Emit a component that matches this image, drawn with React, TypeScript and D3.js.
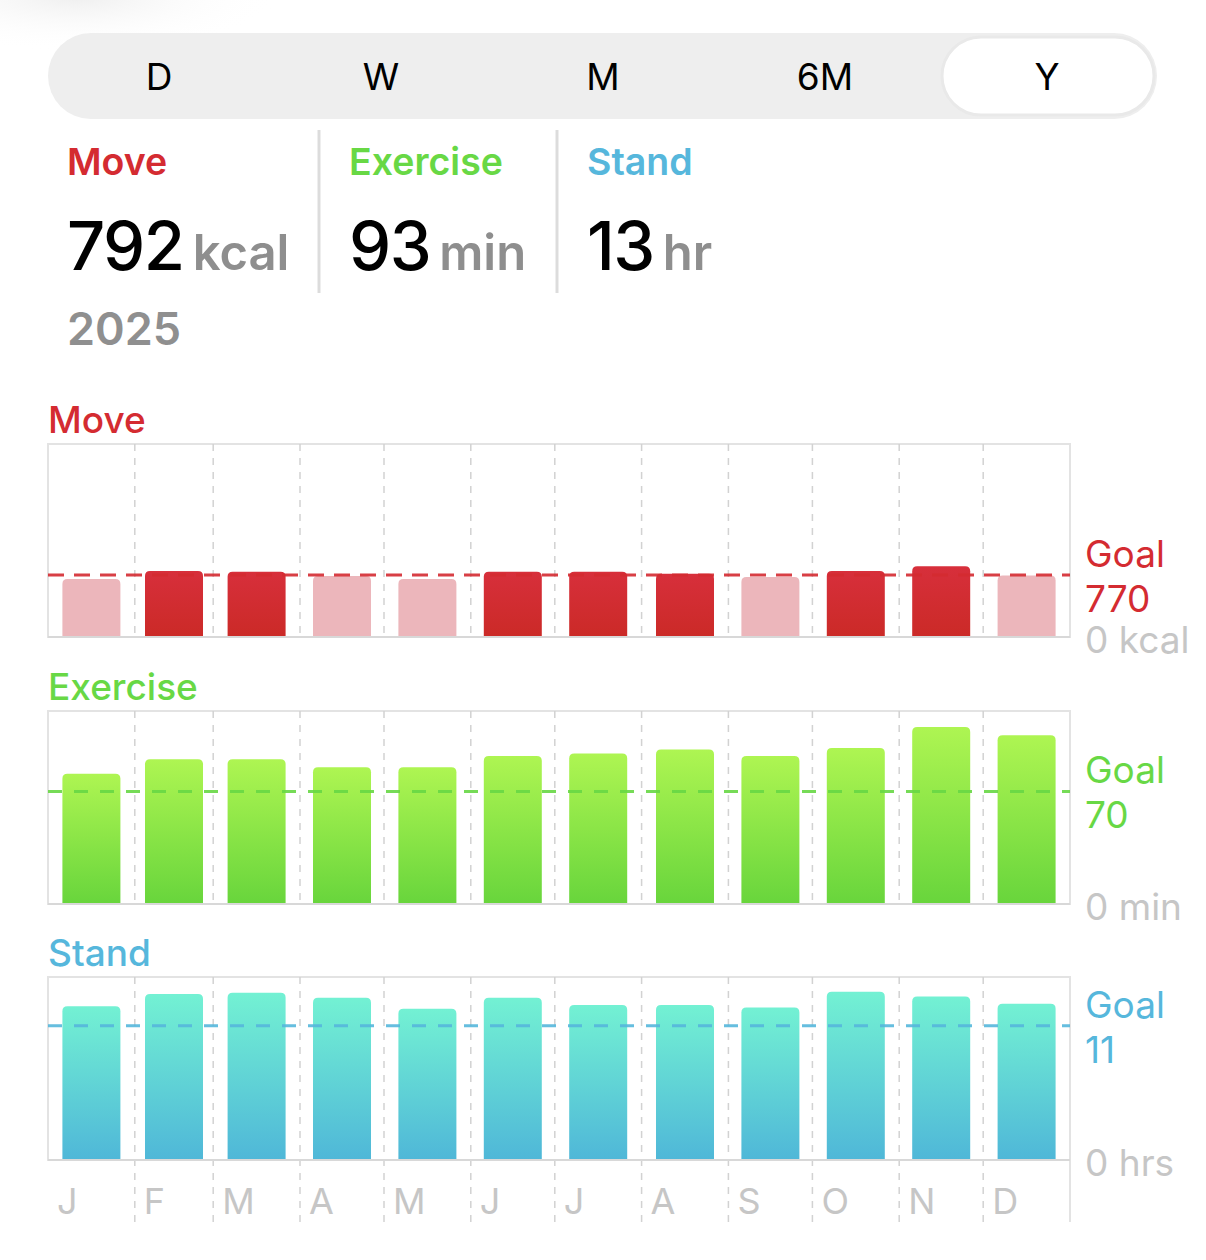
import React from "react";
import * as d3 from "d3";

const periods = ["D", "W", "M", "6M", "Y"];
const selectedPeriod = "Y";
const months = ["J", "F", "M", "A", "M", "J", "J", "A", "S", "O", "N", "D"];
const year = 2025;

const summaryLabels = ["Move", "Exercise", "Stand"];
const summaryValues = ["792", "93", "13"];
const summaryUnits = ["kcal", "min", "hr"];

const moveValues = [720, 820, 810, 760, 720, 810, 810, 785, 745, 820, 880, 765];
const exerciseValues = [81, 90, 90, 85, 85, 92, 93.5, 96, 92, 97, 110, 105];
const standValues = [12.6, 13.6, 13.7, 13.3, 12.4, 13.3, 12.7, 12.7, 12.5, 13.8, 13.4, 12.8];

const goals = [770, 70, 11];
const domainMax = [2400, 120, 15];
const zeroUnits = ["kcal", "min", "hrs"];

const FONT = "Inter, 'Noto Sans', sans-serif";
const COLORS = {
  move: "#d42b31",
  movePink: "#ecb6bb",
  exercise: "#68d845",
  stand: "#56b7dc",
  grid: "#d2d2d2",
  frame: "#e3e3e3",
  axisText: "#c6c6c6",
  unit: "#8e8e8e",
};

const W = 1206;
const H = 1260;
const LEFT = 48;
const RIGHT = 1070;
const BAR_W = 58;

const panels = [
  { name: "Move", values: moveValues, goal: goals[0], max: domainMax[0], top: 444, bottom: 637, color: COLORS.move, unit: zeroUnits[0], grad: "gMove", dash: "16 10" },
  { name: "Exercise", values: exerciseValues, goal: goals[1], max: domainMax[1], top: 711, bottom: 904, color: COLORS.exercise, unit: zeroUnits[1], grad: "gEx", dash: "14 12" },
  { name: "Stand", values: standValues, goal: goals[2], max: domainMax[2], top: 977, bottom: 1160, color: COLORS.stand, unit: zeroUnits[2], grad: "gStand", dash: "14 12" },
];

function topRoundedBar(x: number, y: number, w: number, h: number, r: number) {
  const rr = Math.min(r, h, w / 2);
  return `M${x},${y + h}V${y + rr}Q${x},${y} ${x + rr},${y}H${x + w - rr}Q${x + w},${y} ${x + w},${y + rr}V${y + h}Z`;
}

export default function App() {
  const x = d3
    .scaleUtc()
    .domain([new Date(Date.UTC(year, 0, 1)), new Date(Date.UTC(year + 1, 0, 1))])
    .range([LEFT, RIGHT]);
  const monthStarts = d3.utcMonths(new Date(Date.UTC(year, 0, 1)), new Date(Date.UTC(year + 1, 0, 1)));
  const monthEnds = monthStarts.map((m) => d3.utcMonth.offset(m, 1));
  const centers = monthStarts.map((m, i) => (x(m) + x(monthEnds[i])) / 2);

  return (
    <svg width={W} height={H} style={{ position: "absolute", left: 0, top: 0, background: "#fff" }} fontFamily={FONT}>
      <defs>
        <linearGradient id="gMove" x1="0" y1="0" x2="0" y2="1">
          <stop offset="0" stopColor="#d72f3b" />
          <stop offset="1" stopColor="#cb2a27" />
        </linearGradient>
        <linearGradient id="gEx" x1="0" y1="0" x2="0" y2="1">
          <stop offset="0" stopColor="#aef552" />
          <stop offset="1" stopColor="#68d53c" />
        </linearGradient>
        <linearGradient id="gStand" x1="0" y1="0" x2="0" y2="1">
          <stop offset="0" stopColor="#73f1d3" />
          <stop offset="1" stopColor="#4fb7d8" />
        </linearGradient>
        <radialGradient id="shadow" cx="0.4" cy="0.3" r="0.6">
          <stop offset="0" stopColor="#e8e8e8" stopOpacity="0.7" />
          <stop offset="1" stopColor="#ffffff" stopOpacity="0" />
        </radialGradient>
      </defs>

      <ellipse cx={110} cy={15} rx={170} ry={45} fill="url(#shadow)" />

      {/* segmented control */}
      <rect x={48} y={33} width={1109} height={86} rx={43} fill="#eeeeee" />
      {periods.map((p, i) => {
        const cx = 159 + i * 222;
        const sel = p === selectedPeriod;
        return (
          <g key={p}>
            {sel && <rect x={cx - 105} y={37} width={212} height={78} rx={39} fill="#fff" stroke="#e9e9e9" strokeWidth={3} />}
            <text x={cx} y={90} textAnchor="middle" fontSize={37} fill="#000">
              {p}
            </text>
          </g>
        );
      })}

      {/* summary */}
      {summaryLabels.map((l, i) => {
        const sx = [67, 349, 587][i];
        const c = [COLORS.move, COLORS.exercise, COLORS.stand][i];
        return (
          <g key={l}>
            <text x={sx} y={175} fontSize={37.5} fontWeight={600} fill={c}>
              {l}
            </text>
            <text x={sx} y={270} fill="#000">
              <tspan fontSize={67} fontWeight={500} letterSpacing={-1.5}>
                {summaryValues[i]}
              </tspan>
              <tspan fontSize={49} fontWeight={600} fill={COLORS.unit} dx={9}>
                {summaryUnits[i]}
              </tspan>
            </text>
          </g>
        );
      })}
      <line x1={319} x2={319} y1={130} y2={293} stroke="#dcdcdc" strokeWidth={3} />
      <line x1={557} x2={557} y1={130} y2={293} stroke="#dcdcdc" strokeWidth={3} />
      <text x={67} y={345} fontSize={45} fontWeight={600} fill="#8f8f8f">
        {year}
      </text>

      {panels.map((p, pi) => {
        const y = d3.scaleLinear().domain([0, p.max]).range([p.bottom, p.top]);
        const isLast = pi === panels.length - 1;
        const gridBottom = isLast ? 1222 : p.bottom;
        const gy = y(p.goal);
        return (
          <g key={p.name}>
            <text x={LEFT} y={p.top - 11} fontSize={37} fontWeight={500} fill={p.color}>
              {p.name}
            </text>
            <rect x={LEFT} y={p.top} width={RIGHT - LEFT} height={p.bottom - p.top} fill="none" stroke={COLORS.frame} strokeWidth={2} />
            {isLast && <line x1={RIGHT} x2={RIGHT} y1={p.bottom} y2={1222} stroke={COLORS.frame} strokeWidth={2} />}
            {monthStarts.slice(1).map((m, i) => (
              <line key={i} x1={x(m)} x2={x(m)} y1={p.top} y2={gridBottom} stroke={COLORS.grid} strokeWidth={1.5} strokeDasharray="7 7" />
            ))}
            {p.values.map((v, i) => {
              const fill = pi === 0 && v < p.goal ? COLORS.movePink : `url(#${p.grad})`;
              const top = y(v);
              return <path key={i} d={topRoundedBar(centers[i] - BAR_W / 2, top, BAR_W, p.bottom - top, 5)} fill={fill} />;
            })}
            <line x1={LEFT} x2={RIGHT} y1={p.bottom} y2={p.bottom} stroke="#d8d8d8" strokeWidth={2} />
            <line x1={LEFT} x2={RIGHT} y1={gy} y2={gy} stroke={p.color} strokeWidth={3} strokeDasharray={p.dash} opacity={0.9} />
            <text x={1085} y={gy - 8} fontSize={37} fill={p.color}>
              Goal
            </text>
            <text x={1085} y={gy + 37} fontSize={37} fill={p.color}>
              {p.goal}
            </text>
            <text x={1085} y={p.bottom + 16} fontSize={37} fill={COLORS.axisText}>
              {`0 ${p.unit}`}
            </text>
          </g>
        );
      })}

      {months.map((m, i) => (
        <text key={i} x={x(monthStarts[i]) + 9} y={1214} fontSize={36} fill={COLORS.axisText}>
          {m}
        </text>
      ))}
    </svg>
  );
}
